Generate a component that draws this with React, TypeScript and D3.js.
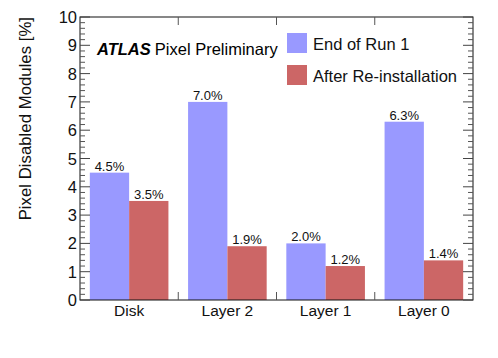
import React from "react";
import * as d3 from "d3";

const categories = ["Disk", "Layer 2", "Layer 1", "Layer 0"];
const seriesNames = ["End of Run 1", "After Re-installation"];
const endOfRun1 = [4.5, 7.0, 2.0, 6.3];
const afterReinstallation = [3.5, 1.9, 1.2, 1.4];
const yTickValues = [0, 1, 2, 3, 4, 5, 6, 7, 8, 9, 10];
const seriesColors = ["#9999ff", "#cc6666"];

const W = 498;
const H = 358;
const M = { left: 80, right: 473, top: 17, bottom: 300 };
const FONT = "'Liberation Sans', Arial, Helvetica, sans-serif";

export default function App() {
  const x = d3.scaleBand<string>().domain(categories).range([M.left, M.right]).padding(0);
  const sub = d3
    .scaleBand<string>()
    .domain(["a", "b"])
    .range([0, x.bandwidth()])
    .paddingInner(0)
    .paddingOuter(0.25);
  const y = d3.scaleLinear().domain([0, 10]).range([M.bottom, M.top]);

  const minorTicks = d3.range(0, 10.0001, 0.2).filter((v) => Math.abs(v - Math.round(v)) > 1e-6);
  const boundaries = categories.slice(1).map((c) => x(c) as number);

  const series = [endOfRun1, afterReinstallation];
  const keys = ["a", "b"];

  return (
    <svg
      width={W}
      height={H}
      style={{ position: "absolute", left: 0, top: 0, background: "#fff" }}
      fontFamily={FONT}
    >
      {/* bars */}
      {series.map((vals, si) =>
        categories.map((c, i) => {
          const bx = (x(c) as number) + (sub(keys[si]) as number);
          const bw = sub.bandwidth();
          const by = y(vals[i]);
          return (
            <g key={`${si}-${i}`}>
              <rect x={bx} y={by} width={bw} height={y(0) - by} fill={seriesColors[si]} />
              <text
                x={bx + bw / 2}
                y={by - 2}
                textAnchor="middle"
                fontSize={13}
                fill="#111"
              >
                {vals[i].toFixed(1) + "%"}
              </text>
            </g>
          );
        })
      )}

      {/* frame */}
      <rect
        x={M.left}
        y={M.top}
        width={M.right - M.left}
        height={M.bottom - M.top}
        fill="none"
        stroke="#111"
        strokeWidth={1}
      />

      {/* y ticks */}
      {yTickValues.map((v) => (
        <g key={`yt${v}`}>
          <line x1={M.left} x2={M.left + 10} y1={y(v)} y2={y(v)} stroke="#444" />
          <line x1={M.right} x2={M.right - 10} y1={y(v)} y2={y(v)} stroke="#444" />
          <text x={M.left - 3} y={y(v) + 6} textAnchor="end" fontSize={16.5} fill="#111">
            {v}
          </text>
        </g>
      ))}
      {minorTicks.map((v) => (
        <g key={`ym${v.toFixed(1)}`}>
          <line x1={M.left} x2={M.left + 5} y1={y(v)} y2={y(v)} stroke="#555" />
          <line x1={M.right} x2={M.right - 5} y1={y(v)} y2={y(v)} stroke="#555" />
        </g>
      ))}

      {/* x ticks at bin boundaries */}
      {boundaries.map((b, i) => (
        <g key={`xb${i}`}>
          <line x1={b} x2={b} y1={M.bottom} y2={M.bottom - 8} stroke="#555" />
          <line x1={b} x2={b} y1={M.top} y2={M.top + 8} stroke="#555" />
        </g>
      ))}

      {/* x labels */}
      {categories.map((c) => (
        <text
          key={`xl${c}`}
          x={(x(c) as number) + x.bandwidth() / 2}
          y={316}
          textAnchor="middle"
          fontSize={15.5}
          fill="#111"
        >
          {c}
        </text>
      ))}

      {/* y axis title */}
      <text
        transform={`translate(31, ${M.top}) rotate(-90)`}
        textAnchor="end"
        fontSize={16.8}
        fill="#111"
      >
        Pixel Disabled Modules [%]
      </text>

      {/* ATLAS label */}
      <text x={97} y={55} fontSize={16.5} fill="#000">
        <tspan fontWeight="bold" fontStyle="italic">ATLAS</tspan>
        <tspan dx={4}>Pixel Preliminary</tspan>
      </text>

      {/* legend */}
      {seriesNames.map((n, i) => (
        <g key={`lg${i}`}>
          <rect x={287} y={33 + i * 32} width={20} height={20} fill={seriesColors[i]} />
          <text x={313} y={50 + i * 32} fontSize={16.5} fill="#111">
            {n}
          </text>
        </g>
      ))}
    </svg>
  );
}
